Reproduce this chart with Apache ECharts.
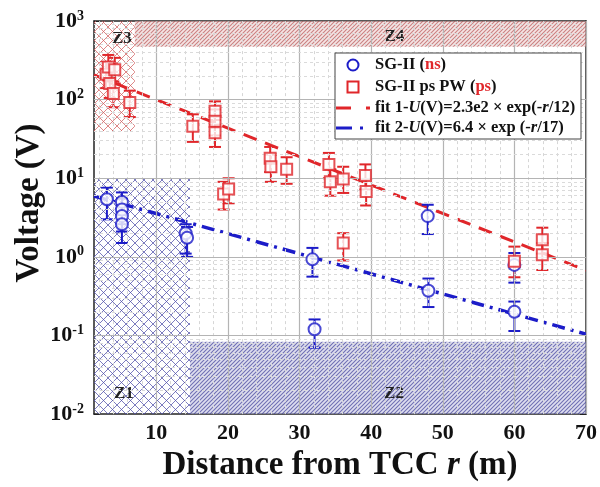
<!DOCTYPE html>
<html><head><meta charset="utf-8">
<script src="https://cdn.jsdelivr.net/npm/echarts@6/dist/echarts.min.js"></script>
<style>html,body{margin:0;padding:0;background:#fff}#c{width:600px;height:487px}</style>
</head><body><div id="c"></div>
<script>
// ---- data ----
const xTicks = [10, 20, 30, 40, 50, 60, 70];
const xMinor = [2, 4, 6, 8, 12, 14, 16, 18, 22, 24, 26, 28, 32, 34, 36, 38, 42, 44, 46, 48, 52, 54, 56, 58, 62, 64, 66, 68];
const yDecades = [0.01, 0.1, 1, 10, 100, 1000];
const yMinorMult = [2, 3, 4, 5, 6, 7, 8, 9];

const nsX    = [3.1, 5.2, 5.2, 5.2, 5.2, 14.1, 14.3, 31.8, 32.1, 47.9, 48.0, 60.0, 60.0];
const nsV    = [5.4, 5.0, 4.0, 3.3, 2.6, 2.0, 1.75, 0.93, 0.12, 3.3, 0.37, 0.79, 0.20];
const nsLow  = [3.0, 3.4, 2.6, 2.1, 1.5, 1.1, 1.0, 0.56, 0.07, 1.95, 0.23, 0.47, 0.114];
const nsHigh = [7.6, 6.6, 5.5, 4.6, 3.7, 2.6, 2.4, 1.3, 0.16, 4.6, 0.53, 1.12, 0.27];

const psX    = [3.0, 3.3, 3.5, 4.2, 4.0, 6.3, 15.1, 18.2, 18.2, 18.2, 19.4, 20.1, 25.9, 26.0, 28.2, 34.1, 34.3, 36.1, 36.1, 39.2, 39.3, 60.0, 63.9, 63.9];
const psV    = [210, 260, 160, 240, 120, 92, 46, 71, 53, 38, 6.3, 7.3, 18, 14, 13, 15, 9, 9.8, 1.5, 10.8, 6.8, 0.88, 1.65, 1.06];
const psLow  = [140, 175, 105, 160, 80, 60, 29, 48, 35, 25, 4.0, 4.8, 12, 9, 8.5, 10, 6, 6.5, 0.9, 7.2, 4.5, 0.55, 1.1, 0.68];
const psHigh = [300, 370, 230, 340, 170, 130, 65, 95, 75, 55, 9.0, 10, 25, 20, 18.5, 21, 13, 14, 2.0, 15, 9.8, 1.35, 2.35, 1.5];

const fit1X = [1.3, 70];
const fit1V = [206, 0.674];
const fit2X = [1.3, 70];
const fit2V = [5.93, 0.104];

const zoneNames = ['Z1', 'Z2', 'Z3', 'Z4'];
const zoneX0 = [1.3, 14.7, 1.3, 7.0];
const zoneX1 = [14.7, 70, 7.0, 70];
const zoneY0 = [0.01, 0.01, 40, 470];
const zoneY1 = [10, 0.083, 1000, 1000];

// ---- styles ----
const RED = '#e0262a', BLUE = '#1c1cc8';
const FONT = '"Liberation Serif","Times New Roman",serif';

function pattern(size, color, lw, bg, cross) {
  const c = document.createElement('canvas');
  c.width = c.height = size;
  const g = c.getContext('2d');
  if (bg) { g.fillStyle = bg; g.fillRect(0, 0, size, size); }
  g.strokeStyle = color; g.lineWidth = lw;
  g.beginPath();
  g.moveTo(-1, size + 1); g.lineTo(size + 1, -1);
  g.moveTo(-1, 1); g.lineTo(1, -1);
  g.moveTo(size - 1, size + 1); g.lineTo(size + 1, size - 1);
  if (cross) {
    g.moveTo(-1, -1); g.lineTo(size + 1, size + 1);
    g.moveTo(size - 1, -1); g.lineTo(size + 1, 1);
    g.moveTo(-1, size - 1); g.lineTo(1, size + 1);
  }
  g.stroke();
  return { image: c, repeat: 'repeat' };
}
const zoneFill = [
  pattern(9, 'rgba(80,80,170,0.75)', 1, null, true),
  pattern(4, 'rgba(60,60,150,0.68)', 1.1, 'rgba(195,195,228,0.55)', false),
  pattern(9, 'rgba(210,95,95,0.75)', 1, null, true),
  pattern(4, 'rgba(175,70,70,0.62)', 1.1, 'rgba(240,205,205,0.55)', false)
];
const zoneLabel = [
  { position: 'insideBottomLeft', distance: 12, offset: [8, 0] },
  { position: 'insideBottom', distance: 12, offset: [6, 0] },
  { position: 'insideTopLeft', distance: 9, offset: [9, 0] },
  { position: 'insideTop', distance: 7, offset: [34, 0] }
];

function errRender(color) {
  return function (params, api) {
    const x = api.value(0), lo = api.value(1), hi = api.value(2);
    const p1 = api.coord([x, lo]), p2 = api.coord([x, hi]);
    const w = 6, st = { stroke: color, lineWidth: 2 };
    return { type: 'group', children: [
      { type: 'line', shape: { x1: p1[0], y1: p1[1], x2: p2[0], y2: p2[1] }, style: st },
      { type: 'line', shape: { x1: p1[0] - w, y1: p1[1], x2: p1[0] + w, y2: p1[1] }, style: st },
      { type: 'line', shape: { x1: p2[0] - w, y1: p2[1], x2: p2[0] + w, y2: p2[1] }, style: st }
    ]};
  };
}

// grid lines
const gridLines = [];
xTicks.forEach(v => gridLines.push({ xAxis: v, lineStyle: { color: '#b4b4b4', width: 1.2, type: 'solid' } }));
xMinor.forEach(v => gridLines.push({ xAxis: v, lineStyle: { color: '#d6d6d6', width: 1, type: [3, 3] } }));
yDecades.slice(1, -1).forEach(v => gridLines.push({ yAxis: v, lineStyle: { color: '#b4b4b4', width: 1.2, type: 'solid' } }));
yDecades.slice(0, -1).forEach(d => yMinorMult.forEach(m => gridLines.push({ yAxis: d * m, lineStyle: { color: '#dadada', width: 1, type: [3, 3] } })));

const areas = zoneNames.map((n, i) => [
  { name: n, xAxis: zoneX0[i], yAxis: zoneY0[i], itemStyle: { color: zoneFill[i], borderWidth: 0 },
    label: Object.assign({ show: true, color: '#222', fontFamily: FONT, fontWeight: 'bold', fontSize: 17 }, zoneLabel[i]) },
  { xAxis: zoneX1[i], yAxis: zoneY1[i] }
]);

const LF = 'bold 16.5px "Liberation Serif", serif';
const LZ = { zlevel: 1, z: 100 };
function lg(el) { return Object.assign({}, LZ, el); }
const chart = echarts.init(document.getElementById('c'), null, { renderer: 'canvas' });
const axisLineStyle = { lineStyle: { color: '#222', width: 1.5 } };
chart.setOption({
  animation: false,
  backgroundColor: '#fff',
  grid: { left: 94, right: 13, top: 21, bottom: 69, containLabel: false },
  xAxis: [
    { type: 'value', min: 1.3, max: 70, position: 'bottom',
      axisLine: axisLineStyle,
      axisTick: { inside: true, length: 6, customValues: xTicks, lineStyle: { color: '#222' } },
      axisLabel: { customValues: xTicks, color: '#111', fontFamily: FONT, fontWeight: 'bold', fontSize: 22, margin: 8 },
      splitLine: { show: false },
      name: 'Distance from TCC {i|r} (m)', nameLocation: 'middle', nameGap: 32,
      nameTextStyle: { color: '#111', fontFamily: FONT, fontWeight: 'bold', fontSize: 33,
        rich: { i: { fontStyle: 'italic', fontFamily: FONT, fontWeight: 'bold', fontSize: 33, color: '#111' } } } },
    { type: 'value', min: 1.3, max: 70, position: 'top',
      axisLine: axisLineStyle,
      axisTick: { inside: true, length: 6, customValues: xTicks, lineStyle: { color: '#222' } },
      axisLabel: { show: false }, splitLine: { show: false } }
  ],
  yAxis: [
    { type: 'log', logBase: 10, min: 0.01, max: 1000, position: 'left',
      axisLine: axisLineStyle,
      axisTick: { inside: true, length: 6, lineStyle: { color: '#222' } },
      axisLabel: { margin: 10, formatter: v => '{b|10}{s|' + Math.round(Math.log10(v)) + '}',
        rich: { b: { fontFamily: FONT, fontWeight: 'bold', fontSize: 22, color: '#111' },
                s: { fontFamily: FONT, fontWeight: 'bold', fontSize: 14, color: '#111', padding: [0, 0, 10, 0] } } },
      splitLine: { show: false } },
    { type: 'log', logBase: 10, min: 0.01, max: 1000, position: 'right',
      axisLine: axisLineStyle,
      axisTick: { inside: true, length: 6, lineStyle: { color: '#222' } },
      axisLabel: { show: false }, splitLine: { show: false } }
  ],
  graphic: {
    zlevel: 1, z: 100,
    elements: [
      { type: 'text', x: 29, y: 203, rotation: Math.PI / 2,
        style: { text: 'Voltage (V)', align: 'center', verticalAlign: 'middle', fill: '#111',
          font: 'bold 33px "Liberation Serif", serif' } },
      lg({ type: 'rect', shape: { x: 335, y: 53, width: 246, height: 86 }, style: { fill: '#fff', stroke: '#444', lineWidth: 1 } }),
      lg({ type: 'circle', shape: { cx: 353, cy: 65, r: 5.5 }, style: { fill: 'none', stroke: BLUE, lineWidth: 2 } }),
      lg({ type: 'rect', shape: { x: 347.5, y: 81.5, width: 11, height: 11 }, style: { fill: 'none', stroke: RED, lineWidth: 2 } }),
      lg({ type: 'line', shape: { x1: 336, y1: 108, x2: 370, y2: 108 }, style: { stroke: RED, lineWidth: 3, lineDash: [15, 15] } }),
      lg({ type: 'line', shape: { x1: 336, y1: 128, x2: 366, y2: 128 }, style: { stroke: BLUE, lineWidth: 3, lineDash: [16, 8, 3, 8] } }),
      lg({ type: 'text', x: 375, y: 65, style: { text: 'SG-II ({r|ns})', verticalAlign: 'middle', fill: '#111', font: LF,
          rich: { r: { fill: RED, fontWeight: 'bold', fontSize: 16.5, fontFamily: FONT } } } }),
      lg({ type: 'text', x: 375, y: 87, style: { text: 'SG-II ps PW ({r|ps})', verticalAlign: 'middle', fill: '#111', font: LF,
          rich: { r: { fill: RED, fontWeight: 'bold', fontSize: 16.5, fontFamily: FONT } } } }),
      lg({ type: 'text', x: 375, y: 108, style: { text: 'fit 1-{i|U}(V)=2.3e2 × exp(-{i|r}/12)', verticalAlign: 'middle', fill: '#111', font: LF,
          rich: { i: { fill: '#111', fontStyle: 'italic', fontWeight: 'bold', fontSize: 16.5, fontFamily: FONT } } } }),
      lg({ type: 'text', x: 375, y: 128, style: { text: 'fit 2-{i|U}(V)=6.4 × exp (-{i|r}/17)', verticalAlign: 'middle', fill: '#111', font: LF,
          rich: { i: { fill: '#111', fontStyle: 'italic', fontWeight: 'bold', fontSize: 16.5, fontFamily: FONT } } } })
    ]
  },
  series: [
    { name: 'grid', type: 'line', data: [], z: 1, silent: true,
      markLine: { silent: true, symbol: 'none', label: { show: false }, animation: false, data: gridLines } },
    { name: 'zones', type: 'line', data: [], z: 2, silent: true,
      markArea: { silent: true, data: areas } },
    { name: 'fit 1', type: 'line', z: 3, symbol: 'none', data: fit1X.map((x, i) => [x, fit1V[i]]),
      lineStyle: { color: RED, width: 3, type: [14, 9] } },
    { name: 'fit 2', type: 'line', z: 3, symbol: 'none', data: fit2X.map((x, i) => [x, fit2V[i]]),
      lineStyle: { color: BLUE, width: 3.5, type: [13, 6, 3, 6] } },
    { name: 'ns err', type: 'custom', z: 4, renderItem: errRender(BLUE),
      data: nsX.map((x, i) => [x, nsLow[i], nsHigh[i]]) },
    { name: 'ps err', type: 'custom', z: 4, renderItem: errRender(RED),
      data: psX.map((x, i) => [x, psLow[i], psHigh[i]]) },
    { name: 'SG-II (ns)', type: 'scatter', z: 5, symbol: 'emptyCircle', symbolSize: 12,
      itemStyle: { color: BLUE, borderColor: BLUE, borderWidth: 2 },
      data: nsX.map((x, i) => [x, nsV[i]]) },
    { name: 'SG-II ps PW (ps)', type: 'scatter', z: 5, symbol: 'emptyRect', symbolSize: 11,
      itemStyle: { color: RED, borderColor: RED, borderWidth: 2 },
      data: psX.map((x, i) => [x, psV[i]]) }
  ]
});
</script>
</body></html>
